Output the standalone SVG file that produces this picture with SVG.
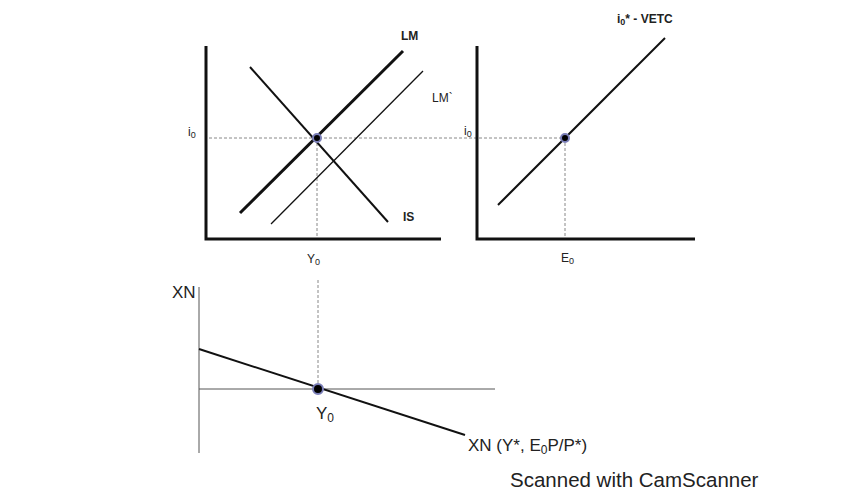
<svg xmlns="http://www.w3.org/2000/svg" width="848" height="494" viewBox="0 0 848 494">
<style>
text{font-family:"Liberation Sans",Arial,sans-serif;fill:#222}
.ax{stroke:#111;stroke-width:3;fill:none}
.thin{stroke:#555;stroke-width:1;fill:none}
.curve{stroke:#111;stroke-width:2;fill:none}
.curveb{stroke:#111;stroke-width:3;fill:none}
.curvet{stroke:#111;stroke-width:1.3;fill:none}
.dash{stroke:#888;stroke-width:1;stroke-dasharray:3,2;fill:none}
.dot{fill:#000;stroke:#7b7fb8;stroke-width:2}
.sm{font-size:12px}
.b{font-weight:bold}
.md{font-size:17px}
</style>
<rect width="848" height="494" fill="#fff"/>
<g id="connectors">
<line class="dash" x1="209" y1="138" x2="565" y2="138"/>
<line class="dash" x1="317" y1="138" x2="317" y2="239"/>
<line class="dash" x1="565" y1="138" x2="565" y2="239"/>
<line class="dash" x1="318" y1="280" x2="318" y2="389"/>
</g>
<g id="islm-panel">
<polyline class="ax" points="206,46 206,239 441,239"/>
<line class="curveb" x1="240" y1="213" x2="403" y2="51"/>
<line class="curvet" x1="271" y1="224" x2="423" y2="71"/>
<line class="curve" x1="250" y1="67" x2="388" y2="222"/>
<circle class="dot" cx="317" cy="138" r="4"/>
<text class="sm b" x="401" y="40">LM</text>
<text class="sm" x="432" y="102">LM`</text>
<text class="sm b" x="403" y="221">IS</text>
<text class="sm" x="188" y="136">i<tspan font-size="9" dy="2">0</tspan></text>
<text class="sm" x="307" y="263">Y<tspan font-size="9" dy="2">0</tspan></text>
</g>
<g id="vetc-panel">
<polyline class="ax" points="477,46 477,239 695,239"/>
<line class="curve" x1="498" y1="205" x2="665" y2="38"/>
<circle class="dot" cx="565" cy="138" r="4"/>
<text class="sm" x="464" y="135">i<tspan font-size="9" dy="2">0</tspan></text>
<text class="sm" x="561" y="262">E<tspan font-size="9" dy="2">0</tspan></text>
<text class="sm b" x="617" y="23">i<tspan font-size="9" dy="2">0</tspan><tspan dy="-2">* - VETC</tspan></text>
</g>
<g id="xn-panel">
<polyline class="thin" points="199,287 199,453"/>
<line class="thin" x1="199" y1="389" x2="495" y2="389"/>
<line class="curve" x1="199" y1="349" x2="465" y2="435"/>
<circle class="dot" cx="318" cy="389" r="5"/>
<text class="md" x="172" y="298">XN</text>
<text class="md" x="316" y="419">Y<tspan font-size="12" dy="3">0</tspan></text>
<text class="md" x="468" y="451">XN (Y*, E<tspan font-size="12" dy="3">0</tspan><tspan dy="-3">P/P*)</tspan></text>
</g>
<text x="510" y="487" font-size="20.5">Scanned with CamScanner</text>
</svg>
